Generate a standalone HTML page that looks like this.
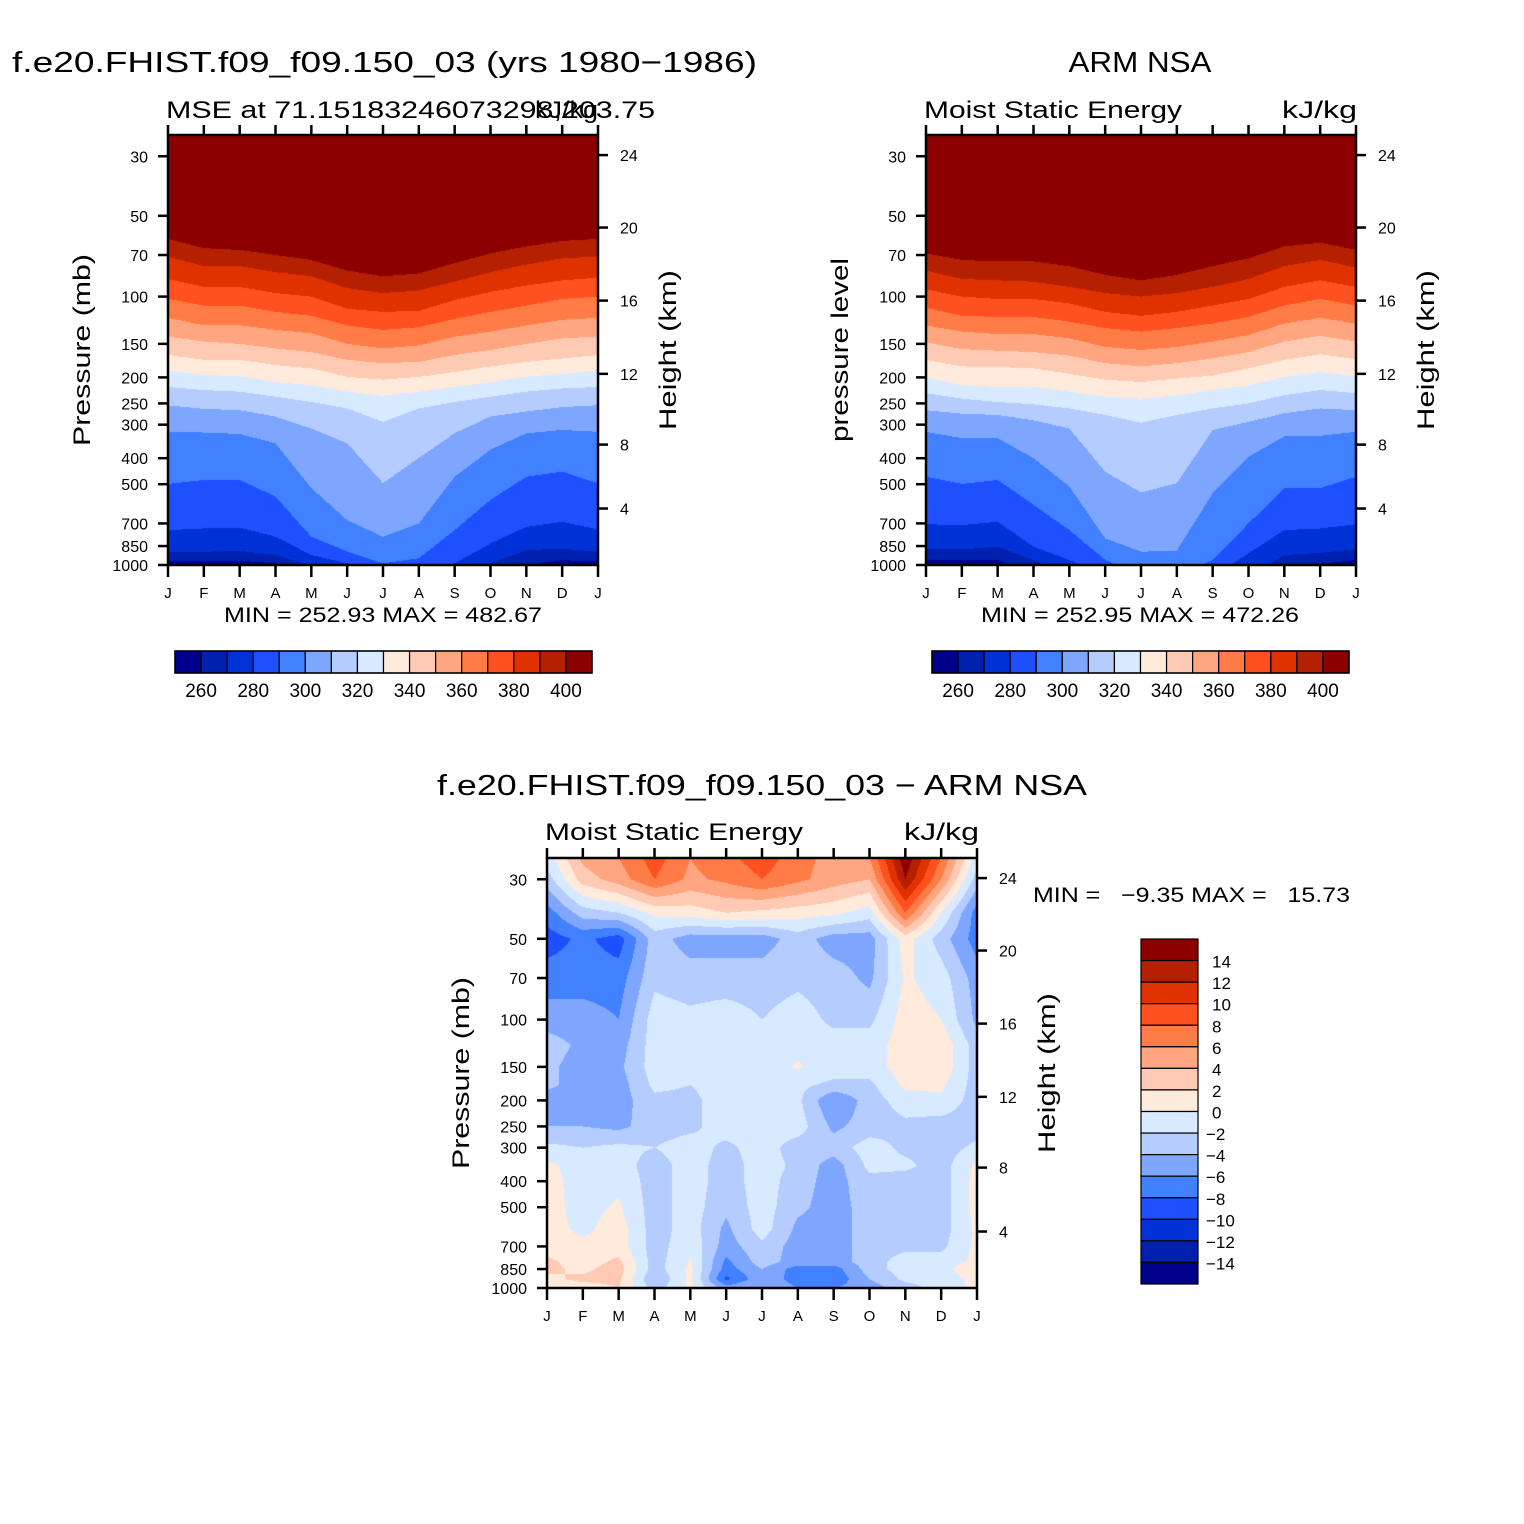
<!DOCTYPE html>
<html><head><meta charset="utf-8">
<style>
html,body{margin:0;padding:0;background:#fff;}
#root{position:relative;width:1524px;height:1524px;overflow:hidden;background:#fff;font-family:"Liberation Sans",sans-serif;}
canvas{position:absolute;}
#overlay{position:absolute;left:0;top:0;}
</style></head>
<body>
<div id="root">
<canvas id="c1" width="430" height="430" style="left:168px;top:135px"></canvas>
<canvas id="c2" width="430" height="430" style="left:926px;top:135px"></canvas>
<canvas id="c3" width="430" height="430" style="left:547px;top:858px"></canvas>
<svg id="overlay" width="1524" height="1524" xmlns="http://www.w3.org/2000/svg"></svg>
</div>
<script>
// ---------- shared data ----------
const months = ['J','F','M','A','M','J','J','A','S','O','N','D','J'];
const pressTicks = [30,50,70,100,150,200,250,300,400,500,700,850,1000];
const kmTicks = [24,20,16,12,8,4];
const kmPress = [29.7,55.3,103.5,194,356,616];
const colors = ['#00008c','#0020b0','#0032d8','#1e50ff','#4180ff','#7ea6ff','#b4ccff','#d8eaff','#ffeadb','#ffcab4','#ffa680','#ff7c46','#ff5020','#e03200','#b42000','#8c0000'];
const mseLevels = [260,270,280,290,300,310,320,330,340,350,360,370,380,390,400];
const mseLabels = [260,280,300,320,340,360,380,400];
const diffLabels = [14,12,10,8,6,4,2,0,-2,-4,-6,-8,-10,-12,-14];

// ---------- panel 1 (model): pressure (mb) of each MSE isoline, per month ----------
const m1_260 = [970,966,964,986,1100,1100,1100,1100,1100,1100,1000,960,970];
const m1_270 = [892,892,885,918,1005,1100,1100,1100,1100,986,880,870,892];
const m1_280 = [741,731,725,785,918,986,1100,1100,986,831,721,690,737];
const m1_290 = [499,482,482,556,785,890,986,944,741,572,469,449,496];
const m1_300 = [319,321,325,352,517,680,785,700,469,372,323,314,319];
const m1_310 = [254,262,265,280,310,352,496,399,323,280,268,258,254];
const m1_320 = [217,223,226,236,247,261,293,261,247,236,226,220,217];
const m1_330 = [188,196,198,208,214,226,234,226,217,208,199,194,188];
const m1_340 = [165,172,172,180,185,199,204,199,191,182,175,170,165];
const m1_350 = [141,147,150,156,161,172,177,175,165,158,150,143,141];
const m1_360 = [120,128,128,133,137,150,156,152,141,135,128,122,120];
const m1_370 = [102,108,108,114,118,128,133,130,121,114,108,102,100];
const m1_380 = [86,92,92,97,100,111,114,113,103,96,91,87,85];
const m1_390 = [71,77,77,81,84,93,97,95,88,81,76,72,71];
const m1_400 = [61,66,67,70,73,80,84,82,75,69,65,62,61];

// ---------- panel 2 (ARM NSA) ----------
const m2_260 = [958,958,958,1100,1100,1100,1100,1100,1100,1100,1000,990,958];
const m2_270 = [875,875,855,958,1100,1100,1100,1100,1100,1100,918,900,875];
const m2_280 = [705,710,690,855,958,1100,1100,1100,1100,905,741,731,705];
const m2_290 = [469,499,482,597,741,958,1100,1100,958,700,517,517,469];
const m2_300 = [319,337,337,400,510,796,892,885,540,395,332,330,319];
const m2_310 = [265,273,276,289,310,449,537,496,314,293,272,261,265];
const m2_320 = [229,240,247,252,261,276,295,276,261,250,233,223,229];
const m2_330 = [200,214,217,217,226,236,240,233,223,214,199,191,198];
const m2_340 = [172,182,183,185,194,204,208,202,197,185,172,164,171];
const m2_350 = [148,157,159,161,166,177,182,177,170,161,147,140,147];
const m2_360 = [128,135,138,138,143,154,158,154,147,139,126,120,126];
const m2_370 = [110,118,119,119,124,131,135,131,126,119,108,102,108];
const m2_380 = [94,100,102,102,106,114,118,114,108,102,92,87,92];
const m2_390 = [80,86,87,88,92,97,100,97,92,86,77,73,78];
const m2_400 = [69,73,74,74,77,83,87,83,77,72,65,63,67];

// ---------- panel 3 (difference) grid: pressure levels x months ----------
const diffPress = [25,30,40,50,70,100,125,150,175,200,250,300,350,400,500,600,700,800,850,925,1000];
const d25  = [-1,4.5,6,9,6,7.5,9,7,5,6,15.5,8,-1];
const d30  = [-3,3,5,8,5.5,6.5,8,6.5,5,4,14,6,-3];
const d40  = [-7,-3,-2,0.5,1,2,1.5,1,0.5,-1,8,0,-7];
const d50  = [-9,-7.5,-9,-3,-5,-5,-5,-3,-5,-5,1,-3,-7];
const d70  = [-7,-7,-7,-2.5,-3,-3,-3,-2.5,-3,-4.5,0.3,-1,-5];
const d100 = [-5,-5,-6,-1,-1.5,-1,-2,-1,-2.5,-2.5,1,0,-4.5];
const d125 = [-3,-4.5,-5,-1,-1,-1,-1,-0.5,-1,-1,1,1.5,-3];
const d150 = [-3.5,-5,-4.5,-1,-1,-1,-1,0.2,-1,-1,1,1.5,-3];
const d175 = [-3.5,-5,-5,-1.5,-2,-1,-1,-1.5,-2.5,-2.5,0.5,0.5,-3];
const d200 = [-5,-5.5,-5,-2.5,-2.5,-1,-1,-1.5,-6,-3,-1,-0.5,-3];
const d250 = [-4,-4,-4.5,-3,-2.5,-1,-1,-1,-4.5,-3,-2.5,-3,-3];
const d300 = [-1.5,-2,-1.5,-2,-1,-2.5,-1,-3,-3,-1,-2.5,-3,-1.5];
const d350 = [0.5,-1,-1,-3,-1,-3,-1,-2.5,-5,-1.5,-1.5,-3,0.5];
const d400 = [0.8,-1,-0.5,-3,-1,-3,-1,-3,-5,-2.5,-3,-3,0.8];
const d500 = [0.8,-0.8,0.3,-3,-1,-3.5,-1,-3.5,-5,-3,-2.5,-3,0.8];
const d600 = [0.8,-0.5,1,-3,-1,-4.5,-1,-4.5,-5,-3,-3,-3,0.5];
const d700 = [1,0.5,1,-3,-0.5,-5,-2.5,-5,-5,-3,-2.5,-2.5,0.5];
const d800 = [2.5,1,2.5,-3,0.2,-6.5,-3,-5,-5,-3,-1,-1,0.5];
const d850 = [2.5,1.5,3,-3,0.5,-7,-4,-7,-7,-3,-1,-1,2];
const d925 = [1.5,2.5,2.5,-4,0.5,-8.5,-4.5,-7,-7.5,-4,-1.5,-1,0.5];
const d1000= [1,1,2,-3,0.5,-5,-4,-6,-6,-5,-3,-1,0.5];

const iso1 = [m1_260,m1_270,m1_280,m1_290,m1_300,m1_310,m1_320,m1_330,m1_340,m1_350,m1_360,m1_370,m1_380,m1_390,m1_400];
const iso2 = [m2_260,m2_270,m2_280,m2_290,m2_300,m2_310,m2_320,m2_330,m2_340,m2_350,m2_360,m2_370,m2_380,m2_390,m2_400];
const diffRows = [d25,d30,d40,d50,d70,d100,d125,d150,d175,d200,d250,d300,d350,d400,d500,d600,d700,d800,d850,d925,d1000];

// ---------- axes ----------
const pTop = 25;
const P1 = {x:168,y:135,w:430,h:430};
const P2 = {x:926,y:135,w:430,h:430};
const P3 = {x:547,y:858,w:430,h:430};
function xOf(P,i){ return P.x + i*P.w/12; }
function yOf(P,p){ return P.y + P.h*Math.log10(p/pTop)/Math.log10(1000/pTop); }
function rgb(h){ return [parseInt(h.substr(1,2),16),parseInt(h.substr(3,2),16),parseInt(h.substr(5,2),16)]; }
const RGB = colors.map(rgb);

function drawIso(id, P, iso){
  const c=document.getElementById(id), ctx=c.getContext('2d');
  const W=P.w, H=P.h, img=ctx.createImageData(W,H);
  for(let px=0;px<W;px++){
    const m=(px+0.5)/W*12; let i0=Math.min(Math.floor(m),11); const t=m-i0;
    const lps=iso.map(a=>Math.log10(a[i0])*(1-t)+Math.log10(a[i0+1])*t);
    for(let py=0;py<H;py++){
      const lp=Math.log10(pTop)+(py+0.5)/P.h*Math.log10(1000/pTop);
      let band=0; for(const v of lps){ if(v>lp) band++; }
      const col=RGB[band]; const k=(py*W+px)*4;
      img.data[k]=col[0];img.data[k+1]=col[1];img.data[k+2]=col[2];img.data[k+3]=255;
    }
  }
  ctx.putImageData(img,0,0);
}
function drawGrid(id, P){
  const c=document.getElementById(id), ctx=c.getContext('2d');
  const W=P.w, H=P.h, img=ctx.createImageData(W,H);
  const lpl=diffPress.map(p=>Math.log10(p));
  for(let py=0;py<H;py++){
    const lp=Math.log10(pTop)+(py+0.5)/P.h*Math.log10(1000/pTop);
    let j=0; while(j<lpl.length-2 && lp>lpl[j+1]) j++;
    let s=(lp-lpl[j])/(lpl[j+1]-lpl[j]); s=Math.max(0,Math.min(1,s));
    for(let px=0;px<W;px++){
      const m=(px+0.5)/W*12; let i0=Math.min(Math.floor(m),11); const t=m-i0;
      const a=diffRows[j], b=diffRows[j+1];
      const v=(a[i0]*(1-t)+a[i0+1]*t)*(1-s)+(b[i0]*(1-t)+b[i0+1]*t)*s;
      let band=Math.floor((v+16)/2); band=Math.max(0,Math.min(15,band));
      const col=RGB[band]; const k=(py*W+px)*4;
      img.data[k]=col[0];img.data[k+1]=col[1];img.data[k+2]=col[2];img.data[k+3]=255;
    }
  }
  ctx.putImageData(img,0,0);
}
drawIso('c1',P1,iso1);
drawIso('c2',P2,iso2);
drawGrid('c3',P3);

// ---------- SVG overlay ----------
const NS='http://www.w3.org/2000/svg';
const svg=document.getElementById('overlay');
function mk(tag,attrs){ const e=document.createElementNS(NS,tag); for(const k in attrs) e.setAttribute(k,attrs[k]); svg.appendChild(e); return e; }
function txt(s,x,y,size,anchor,extra){
  const e=mk('text',Object.assign({x:x,y:y,'font-size':size,'text-anchor':anchor||'start','font-family':'Liberation Sans, sans-serif',fill:'#000'},extra||{}));
  e.textContent=s; return e;
}

function axes(P, leftTitle, leftLen, tag){
  const frame=mk('rect',{x:P.x,y:P.y,width:P.w,height:P.h,fill:'none',stroke:'#000','stroke-width':2.5});
  
  
  months.forEach((m,i)=>{
    const x=xOf(P,i);
    const tb=mk('line',{x1:x,y1:P.y+P.h,x2:x,y2:P.y+P.h+12,stroke:'#000','stroke-width':2.5});
    
    
    const tt=mk('line',{x1:x,y1:P.y,x2:x,y2:P.y-10,stroke:'#000','stroke-width':2.5});
    
    
    const lb=txt(m,x,P.y+P.h+33,15,'middle');
    
    
  });
  pressTicks.forEach(p=>{
    const y=yOf(P,p);
    const t=mk('line',{x1:P.x,y1:y,x2:P.x-10,y2:y,stroke:'#000','stroke-width':2.5});
    
    
    const l=txt(String(p),P.x-20,y+6,16,'end');
    
    
  });
  kmTicks.forEach((k,i)=>{
    const y=yOf(P,kmPress[i]);
    const t=mk('line',{x1:P.x+P.w,y1:y,x2:P.x+P.w+10,y2:y,stroke:'#000','stroke-width':2.5});
    
    
    const l=txt(String(k),P.x+P.w+22,y+6,16,'start');
    
    
  });
  const cx=P.x-78, cy=P.y+P.h/2;
  const lt=txt(leftTitle,cx,cy,24,'middle',{transform:'rotate(-90 '+cx+' '+cy+')',textLength:leftLen,lengthAdjust:'spacingAndGlyphs'});
  
  
  const rx=P.x+P.w+78, ry=P.y+P.h/2;
  const rt=txt('Height (km)',rx,ry,24,'middle',{transform:'rotate(-90 '+rx+' '+ry+')',textLength:160,lengthAdjust:'spacingAndGlyphs'});
  
  
}
axes(P1,'Pressure (mb)',192,'model');
axes(P2,'pressure level',184,'obs');
axes(P3,'Pressure (mb)',192,'diff');

// titles
let e;
e=txt('f.e20.FHIST.f09_f09.150_03 (yrs 1980\u22121986)',12,72,29,'start',{textLength:745,lengthAdjust:'spacingAndGlyphs'});


e=txt('MSE at 71.15183246073298,203.75',166,118,24,'start',{textLength:489,lengthAdjust:'spacingAndGlyphs'});


e=txt('kJ/kg',598,118,24,'end',{textLength:63,lengthAdjust:'spacingAndGlyphs'});


e=txt('ARM NSA',1140,72,29,'middle',{textLength:143,lengthAdjust:'spacingAndGlyphs'});


e=txt('Moist Static Energy',924,118,24,'start',{textLength:258,lengthAdjust:'spacingAndGlyphs'});


e=txt('kJ/kg',1357,118,24,'end',{textLength:75,lengthAdjust:'spacingAndGlyphs'});


e=txt('f.e20.FHIST.f09_f09.150_03 \u2212 ARM NSA',437,795,29,'start',{textLength:650,lengthAdjust:'spacingAndGlyphs'});


e=txt('Moist Static Energy',545,840,24,'start',{textLength:258,lengthAdjust:'spacingAndGlyphs'});


e=txt('kJ/kg',979,840,24,'end',{textLength:75,lengthAdjust:'spacingAndGlyphs'});


e=txt('MIN = 252.93 MAX = 482.67',224,622,21,'start',{textLength:318,lengthAdjust:'spacingAndGlyphs'});


e=txt('MIN = 252.95 MAX = 472.26',981,622,21,'start',{textLength:318,lengthAdjust:'spacingAndGlyphs'});


e=txt('MIN =   \u22129.35 MAX =   15.73',1033,902,21,'start',{textLength:317,lengthAdjust:'spacingAndGlyphs',style:'white-space:pre'});



// horizontal colorbars
function hbar(x0,tag){
  const y0=651,h=22,bw=417/16;
  colors.forEach((c,i)=>{
    const r=mk('rect',{x:x0+i*bw,y:y0,width:bw,height:h,fill:c,stroke:'#000','stroke-width':1.2});
    
    
  });
  const b=mk('rect',{x:x0,y:y0,width:417,height:h,fill:'none',stroke:'#000','stroke-width':1.5});
  
  
  mseLabels.forEach(v=>{
    const i=mseLevels.indexOf(v)+1;
    const l=txt(String(v),x0+i*bw,697,19,'middle');
    
    
  });
}
hbar(175,'model');
hbar(932,'obs');

// vertical colorbar for difference
(function(){
  const x0=1141,y0=939,w=57,bh=345/16;
  colors.slice().reverse().forEach((c,i)=>{
    const r=mk('rect',{x:x0,y:y0+i*bh,width:w,height:bh,fill:c,stroke:'#000','stroke-width':1.2});
    
    
  });
  diffLabels.forEach((v,i)=>{
    const s=v<0?'\u2212'+Math.abs(v):String(v);
    const l=txt(s,v<0?1206:1212,y0+(i+1)*bh+7,17,'start');
    
    
  });
})();
</script>
</body></html>
